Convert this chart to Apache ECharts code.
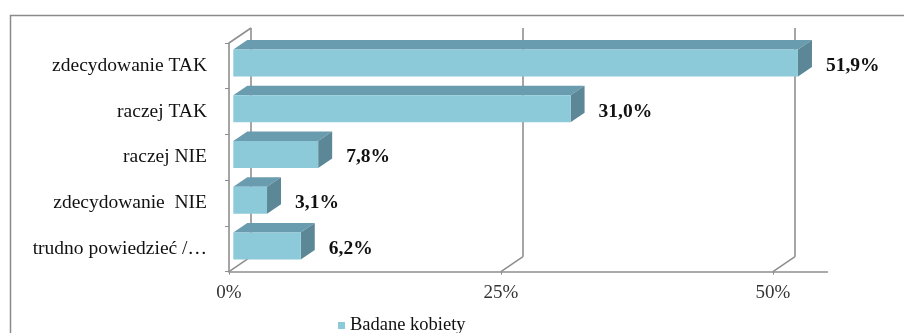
<!DOCTYPE html>
<html>
<head>
<meta charset="utf-8">
<script src="https://cdn.jsdelivr.net/npm/echarts@6/dist/echarts.min.js"></script>
<style>
  html, body { margin: 0; padding: 0; background: #fff; }
  #chart { width: 904px; height: 333px; }
</style>
</head>
<body>
<div id="chart"></div>
<script>
// Survey answers and shares (%)
const categories = ['zdecydowanie TAK', 'raczej TAK', 'raczej NIE', 'zdecydowanie  NIE', 'trudno powiedzieć /…'];
const values = [51.9, 31.0, 7.8, 3.1, 6.2];
const seriesName = 'Badane kobiety';
const axisTicks = [0, 25, 50];
const axisMax = 55;

// Pseudo-3D projection: wall depth and bar placement inside the depth
const WALL_DX = 22, WALL_DY = -15;
const BAR_FX = 4.3, BAR_FY = -2.9;
const BAR_DX = 14, BAR_DY = -9.5;
const BAR_RATIO = 0.59;

const FRONT = '#8ccada';
const TOP = '#6a9caf';
const SIDE = '#5c8797';
const LINE = '#8f8f8f';
const SERIF = '"Liberation Serif", "Times New Roman", serif';

const fmt = v => v.toFixed(1).replace('.', ',') + '%';

const chart = echarts.init(document.getElementById('chart'), null, { renderer: 'canvas' });

// Wall frame: left wall outline and back-wall gridlines with floor diagonals
function renderWalls(params, api) {
  const cs = params.coordSys;
  const g = api.value(0);
  const x = api.coord([g, 0])[0];
  const yTop = cs.y;
  const yFloor = cs.y + cs.height;
  const children = [];
  const style = { stroke: LINE, lineWidth: 1.6, fill: null };
  // floor diagonal
  children.push({ type: 'line', shape: { x1: x, y1: yFloor, x2: x + WALL_DX, y2: yFloor + WALL_DY }, style });
  // back wall vertical
  children.push({ type: 'line', shape: { x1: x + WALL_DX, y1: yFloor + WALL_DY, x2: x + WALL_DX, y2: yTop + WALL_DY }, style });
  if (g === 0) {
    // top edge of the side wall
    children.push({ type: 'line', shape: { x1: x, y1: yTop, x2: x + WALL_DX, y2: yTop + WALL_DY }, style });
  }
  return { type: 'group', children };
}

// Box bars: front, top and side faces plus the value label
function renderBar(params, api) {
  const v = api.value(0);
  const c = api.value(1);
  const p0 = api.coord([0, c]);
  const p1 = api.coord([v, c]);
  const band = api.size([0, 1])[1];
  const h = band * BAR_RATIO;
  const x0 = p0[0] + BAR_FX;
  const x1 = p1[0] + BAR_FX;
  const cy = p0[1] + BAR_FY;
  const yt = cy - h / 2;
  const yb = cy + h / 2;
  return {
    type: 'group',
    children: [
      { type: 'polygon', shape: { points: [[x0, yt], [x1, yt], [x1 + BAR_DX, yt + BAR_DY], [x0 + BAR_DX, yt + BAR_DY]] }, style: { fill: TOP } },
      { type: 'polygon', shape: { points: [[x1, yt], [x1 + BAR_DX, yt + BAR_DY], [x1 + BAR_DX, yb + BAR_DY], [x1, yb]] }, style: { fill: SIDE } },
      { type: 'rect', shape: { x: x0, y: yt, width: x1 - x0, height: h }, style: { fill: FRONT } },
      { type: 'text', x: x1 + 28, y: cy + 3, style: { text: fmt(v), font: 'bold 19.5px ' + SERIF, fill: '#111', verticalAlign: 'middle', align: 'left' } }
    ]
  };
}

chart.setOption({
  animation: false,
  backgroundColor: '#fff',
  color: [FRONT],
  grid: { left: 229, right: 76.6, top: 43, bottom: 61.3, containLabel: false },
  graphic: [{
    type: 'rect', left: 8, top: 13,
    shape: { width: 1000, height: 1000 },
    style: { fill: null, stroke: '#8a8a8a', lineWidth: 1.5 },
    silent: true, z: -10
  }],
  legend: {
    data: [seriesName],
    left: 333, top: 311,
    icon: 'rect', itemWidth: 7, itemHeight: 7, itemGap: 4,
    textStyle: { fontFamily: SERIF, fontSize: 18.5, color: '#111' }
  },
  xAxis: {
    type: 'value', min: 0, max: axisMax, interval: 25,
    axisLine: { show: true, lineStyle: { color: LINE, width: 1.6 } },
    axisTick: { show: true, length: 3, lineStyle: { color: LINE } },
    splitLine: { show: false },
    axisLabel: {
      margin: 12,
      fontFamily: SERIF, fontSize: 19, color: '#333',
      showMaxLabel: false,
      formatter: v => axisTicks.includes(v) ? v + '%' : ''
    }
  },
  yAxis: {
    type: 'category', data: categories, inverse: true,
    axisLine: { show: true, lineStyle: { color: LINE, width: 1.6 } },
    axisTick: { show: true, length: 4, lineStyle: { color: LINE } },
    axisLabel: { margin: 22, fontFamily: SERIF, fontSize: 19.5, color: '#111' }
  },
  series: [
    {
      type: 'custom', name: 'walls', renderItem: renderWalls,
      data: axisTicks.map(t => [t]), encode: { x: 0 }, z: 1, silent: true
    },
    {
      type: 'custom', name: seriesName, renderItem: renderBar,
      itemStyle: { color: FRONT },
      data: values.map((v, i) => [v, i]), encode: { x: 0, y: 1 }, z: 2
    }
  ]
});
</script>
</body>
</html>
